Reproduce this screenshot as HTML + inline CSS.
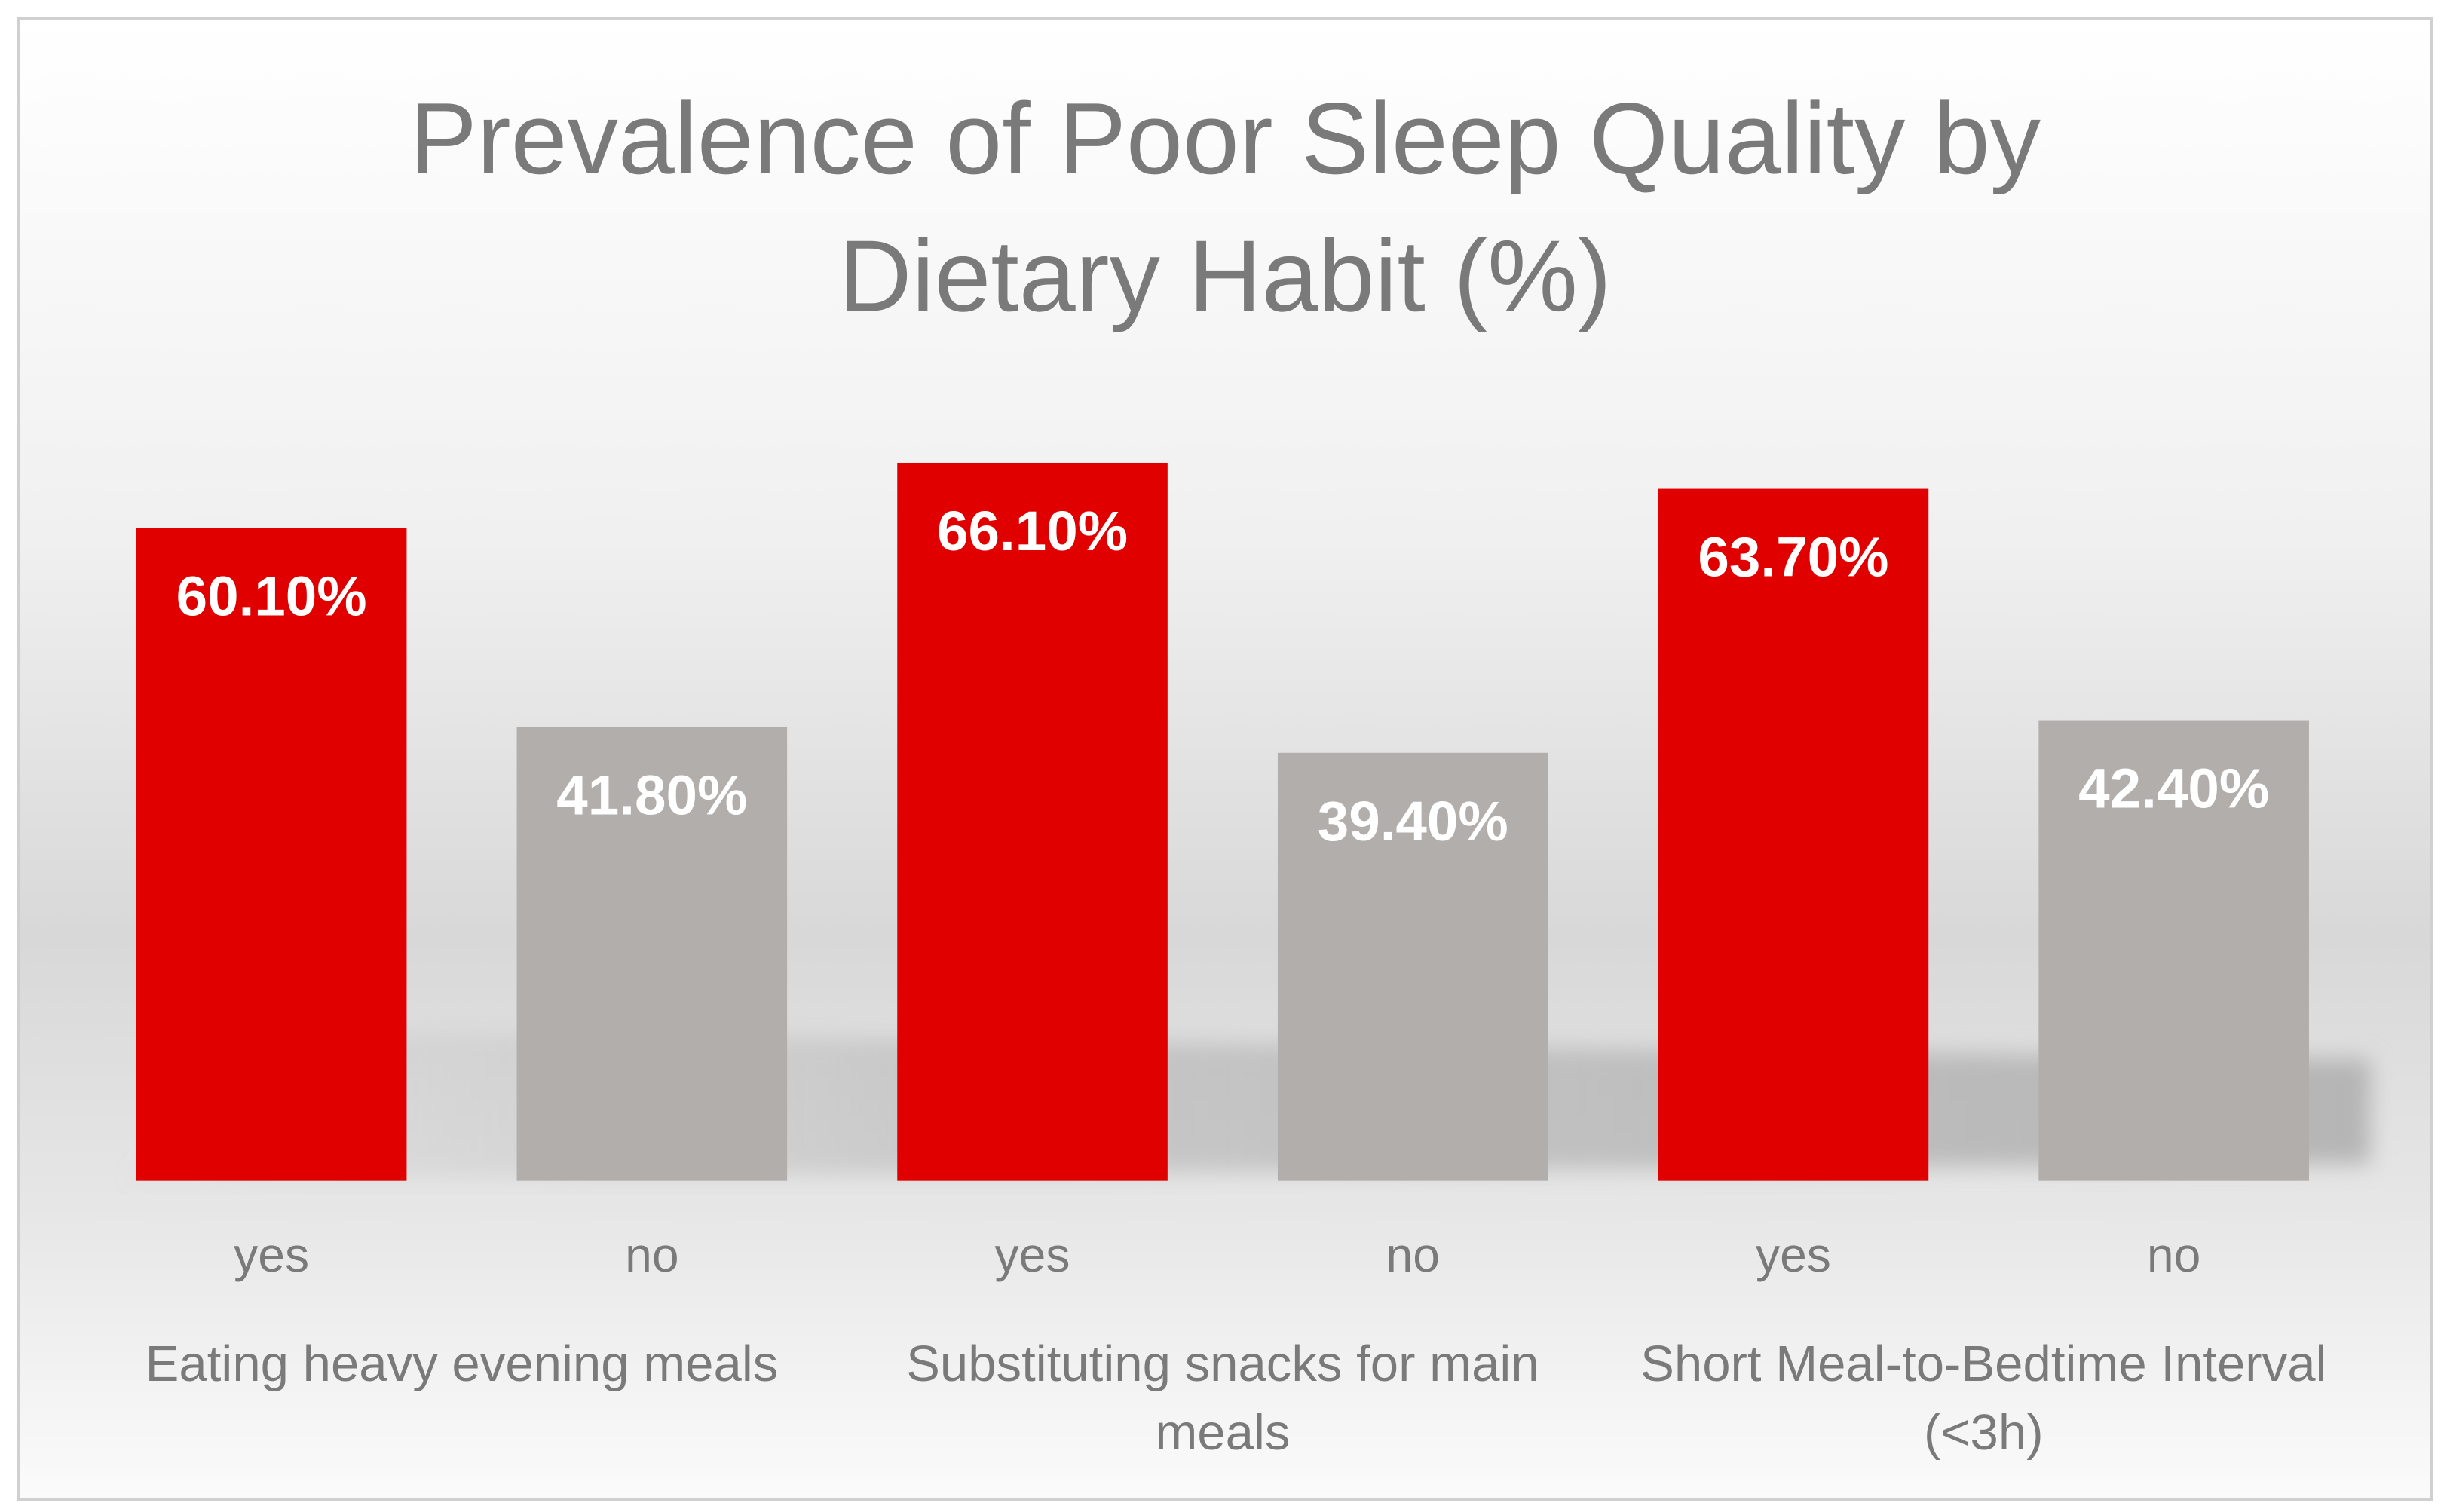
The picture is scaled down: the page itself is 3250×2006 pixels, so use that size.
<!DOCTYPE html>
<html><head><meta charset="utf-8"><style>
html,body{margin:0;padding:0;background:#fff;}
svg{display:block;}
text{font-family:"Liberation Sans",sans-serif;}
</style></head><body>
<svg id="chart" width="3250" height="2006" viewBox="0 0 1568 968" preserveAspectRatio="none" xmlns="http://www.w3.org/2000/svg">
<defs>
<linearGradient id="bg" x1="0" y1="0" x2="0" y2="1">
<stop offset="0" stop-color="#ffffff"/>
<stop offset="0.35" stop-color="#f0f0f0"/>
<stop offset="0.62" stop-color="#d8d8d8"/>
<stop offset="0.8" stop-color="#e6e6e6"/>
<stop offset="1" stop-color="#fbfbfb"/>
</linearGradient>
<linearGradient id="shadow" x1="0" y1="0" x2="1" y2="0">
<stop offset="0" stop-color="#bbbbbb" stop-opacity="0.1"/>
<stop offset="0.4" stop-color="#b5b5b5" stop-opacity="0.6"/>
<stop offset="1" stop-color="#b0b0b0" stop-opacity="0.9"/>
</linearGradient>
<filter id="blur"><feGaussianBlur stdDeviation="7"/></filter>
</defs>
<rect x="12" y="12" width="1544" height="948" fill="url(#bg)" stroke="#d0d0d0" stroke-width="2"/>
<text x="784" y="111" text-anchor="middle" font-size="65" fill="#7a7a7a">Prevalence of Poor Sleep Quality by</text>
<text x="784" y="199" text-anchor="middle" font-size="65" fill="#7a7a7a">Dietary Habit (%)</text>
<polygon points="200,660 1517,678 1517,745 80,755" fill="url(#shadow)" filter="url(#blur)"/>
<g id="bars"></g>
<g id="labels"></g>
</svg>
<script>
const categories = ["yes","no","yes","no","yes","no"];
const values = [60.1, 41.8, 66.1, 39.4, 63.7, 42.4];
const valueLabels = ["60.10%","41.80%","66.10%","39.40%","63.70%","42.40%"];
const groups = [["Eating heavy evening meals"],["Substituting snacks for main","meals"],["Short Meal-to-Bedtime Interval","(<3h)"]];

const NS="http://www.w3.org/2000/svg";
const plotLeft=52, catW=243.5, baseY=756, pxPerPct=6.955, barW=173;
function xCenter(i){return plotLeft+catW*(i+0.5);}
function yScale(v){return baseY-v*pxPerPct;}
const bars=document.getElementById('bars');
const labels=document.getElementById('labels');
function mk(tag,attrs,parent){const e=document.createElementNS(NS,tag);for(const k in attrs)e.setAttribute(k,attrs[k]);parent.appendChild(e);return e;}
values.forEach((v,i)=>{
  const r=mk('rect',{x:xCenter(i)-barW/2,y:yScale(v),width:barW,height:baseY-yScale(v),fill:i%2===0?'#e00000':'#b2aeac'},bars);
  
  
  const t=mk('text',{x:xCenter(i),y:yScale(v)+56,'text-anchor':'middle','font-size':'36','font-weight':'bold',fill:'#ffffff'},labels);
  t.textContent=valueLabels[i];
  
  
  const c=mk('text',{x:xCenter(i),y:814,'text-anchor':'middle','font-size':'31',fill:'#7a7a7a'},labels);
  c.textContent=categories[i];
  
  
});
groups.forEach((g,j)=>{
  const cx=(xCenter(2*j)+xCenter(2*j+1))/2;
  g.forEach((line,k)=>{
    const t=mk('text',{x:cx,y:884+k*44,'text-anchor':'middle','font-size':'32.4',fill:'#7a7a7a'},labels);
    t.textContent=line;
    
    
  });
});
</script>
</body></html>
